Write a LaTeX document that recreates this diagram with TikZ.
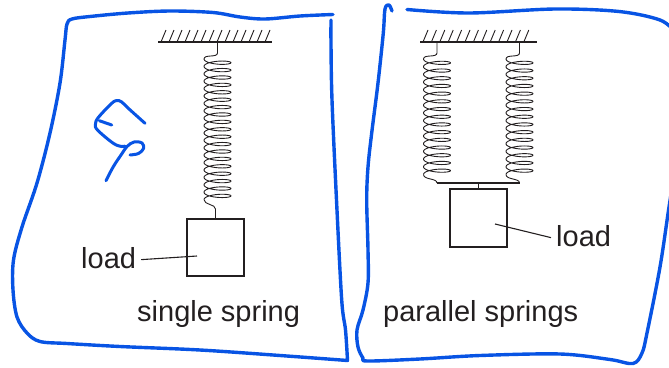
\documentclass[tikz,border=0pt]{standalone}
\usepackage{fontspec}
\setmainfont{Liberation Sans}
\definecolor{inkc}{RGB}{35,31,32}
\definecolor{penblue}{RGB}{8,84,228}
\begin{document}
\begin{tikzpicture}[x=1pt,y=-1pt,
  ink/.style={draw=inkc, line width=1.1pt, line join=round},
  coilline/.style={draw=inkc, line width=0.9pt, line join=round},
  hatch/.style={draw=inkc, line width=0.9pt},
  massbox/.style={draw=inkc, line width=1.1pt, minimum width=57pt, minimum height=57pt, inner sep=0pt},
  lbl/.style={font=\fontsize{29}{34}\selectfont, text=inkc, inner sep=0pt},
  pen/.style={draw=penblue, line width=3.4pt, line cap=round, line join=round}]
\useasboundingbox (0,0) rectangle (669,367);
\clip (0,0) rectangle (669,367);

% ---------------- single spring ----------------
\coordinate (ceilA1) at (158,42);
\coordinate (ceilA2) at (272,42);
\draw[ink] (ceilA1) -- (ceilA2);
\foreach \k in {0,...,13}
  \draw[hatch] ({161+8*\k},42) -- ({166+8*\k},30);

\node[massbox] (boxA) at (215.5,247.5) {};
% hook from ceiling into the coil
\draw[coilline] (217.5,42) -- (217.5,53) .. controls (217.5,58) and (204,54) .. (204,59);
% coil
\draw[coilline] plot[domain=0:6840, samples=685]
  ({217.5-13.5*cos(\x)}, {59+7.4*(\x/360)+3.3*sin(\x)});
% hook from coil to load
\draw[coilline] (204,199.6) .. controls (204,205) and (215.5,204) .. (215.5,209) -- (boxA.north);

\node[lbl, anchor=base west] (loadA) at (81,268) {load};
\coordinate (pA) at (197,256);
\draw[ink] ([xshift=5pt,yshift=-2pt]loadA.east) -- (pA);
\node[lbl, anchor=base west] (capA) at (137,321) {single spring};

% ---------------- parallel springs ----------------
\coordinate (ceilB1) at (420,42);
\coordinate (ceilB2) at (537,42);
\draw[ink] (ceilB1) -- (ceilB2);
\foreach \k in {0,...,12}
  \draw[hatch] ({423+8.4*\k},42) -- ({428+8.4*\k},30);

\node[massbox, minimum height=58pt] (boxB) at (478.5,218) {};
\foreach \cx in {437,519.5} {
  \draw[coilline] (\cx,42) -- (\cx,53) .. controls (\cx,58) and ({\cx-13.5},54) .. ({\cx-13.5},59);
  \draw[coilline] plot[domain=0:5400, samples=541]
    ({\cx-13.5*cos(\x)}, {59+7.7*(\x/360)+3.3*sin(\x)});
  \draw[coilline] ({\cx-13.5},174.5) .. controls ({\cx-13.5},180) and (\cx,178) .. (\cx,183);
}
\coordinate (barL) at (437,183);
\coordinate (barR) at (519.5,183);
\draw[ink] (barL) -- (barR);
\draw[ink] (478.5,183) -- (boxB.north);

\node[lbl, anchor=base west] (loadB) at (556,246) {load};
\coordinate (pB) at (495,224);
\draw[ink] (pB) -- ([xshift=-5pt,yshift=-2pt]loadB.west);
\node[lbl, anchor=base west] (capB) at (383,321) {parallel springs};

% ---------------- pen annotations ----------------
% frame around the single spring
\draw[pen] plot[smooth, tension=0.55] coordinates {
  (333,14.5) (300,16) (265,19) (240,17) (213,12.5) (170,11) (128,13) (90,16.5) (72,19)
  (67,24) (65,40) (60,83) (50,133) (37,183) (22,227) (13.5,260) (13,290) (17,317)
  (27,333) (40,341.5) (67,343.5) (120,346.5) (200,350) (280,355.5) (347.5,360.5)}
  -- plot[smooth, tension=0.55] coordinates {
  (347.5,360.5) (345.5,330) (341.7,300) (336.5,200) (332,100) (331,45) (331,20)};
% frame around the parallel springs
\draw[pen] plot[smooth, tension=0.55] coordinates {
  (392,11) (389,5) (385,9) (383.3,33) (378,83) (371.7,133) (368,167) (366.7,200)
  (368,250) (368,283) (363,310) (357,330) (358,347) (363,358) (368,361)
  (420,359) (480,355.5) (560,354) (610,359.5) (633,363.5) (642,353) (647,333)
  (660,267) (669,207) (675,170)};
\draw[pen] plot[smooth, tension=0.55] coordinates {
  (407,9.5) (469,13) (555,9) (619,11.5) (660,20) (675,32)};
% handwritten "Ep"
\draw[pen, line width=3pt] plot[smooth, tension=0.6] coordinates {
  (145,123.3) (128.3,108.3) (121.7,102) (116.5,100.5) (111,104) (98.3,117.5)
  (95.5,124) (97.5,130) (113.3,143.3) (121.7,146.5) (125,146)};
\draw[pen, line width=3pt] (99.3,120.7) -- (111.7,125);
\draw[pen, line width=3pt] plot[smooth, tension=0.6] coordinates {
  (106,180.7) (113.3,166.7) (121.7,154) (127,146.5) (134,142) (142,143) (143.5,148.5)
  (138.5,153.5) (130,155)};
\end{tikzpicture}
\end{document}
